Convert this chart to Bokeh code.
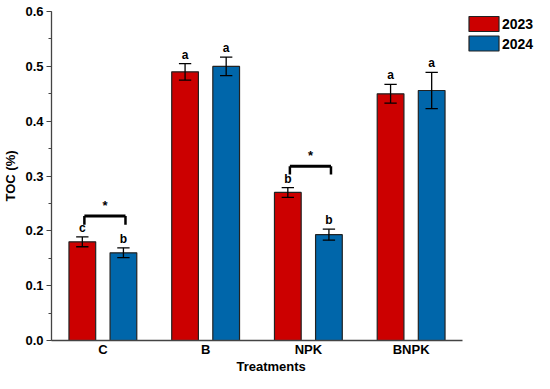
from bokeh.plotting import figure
from bokeh.layouts import row, column
from bokeh.models import (ColumnDataSource, Range1d, FixedTicker, SingleIntervalTicker,
                          NumeralTickFormatter)
from bokeh.embed import file_html
from bokeh.resources import INLINE

# ---- data ----
treatments = ["C", "B", "NPK", "BNPK"]
years = ["2023", "2024"]
toc_2023 = [0.180, 0.490, 0.270, 0.450]
toc_2024 = [0.160, 0.500, 0.193, 0.456]
err_2023 = [0.009, 0.015, 0.009, 0.017]
err_2024 = [0.009, 0.017, 0.010, 0.033]
letters_2023 = ["c", "a", "b", "a"]
letters_2024 = ["b", "a", "b", "a"]
sig_treatments = ["C", "NPK"]
sig_bar_y = [0.227, 0.318]
sig_drop_y = [0.211, 0.303]
sig_labels = ["*", "*"]
x_title = "Treatments"
y_title = "TOC (%)"

colors = {"2023": "#CC0000", "2024": "#0066AA"}
FONT = "Liberation Sans"
offset = 0.2
bar_w = 0.26
cap = 0.06

H = 373
HT = 14
H1 = H - HT
ML, MR, MT, MB = 42, 2, 11, 14
WMAIN = 464
WLEG = 534 - WMAIN

p = figure(width=WMAIN, height=H1, output_backend="svg", toolbar_location=None,
           x_range=Range1d(0, 4), y_range=Range1d(0, 0.6001),
           min_border_left=ML, min_border_right=MR, min_border_top=MT, min_border_bottom=MB)
p.outline_line_color = None
p.xgrid.grid_line_color = None
p.ygrid.grid_line_color = None

for yr, vals, errs, lets, sgn in [("2023", toc_2023, err_2023, letters_2023, -1),
                                   ("2024", toc_2024, err_2024, letters_2024, 1)]:
    xs = [i + 0.5 + sgn * offset for i in range(len(treatments))]
    src = ColumnDataSource(dict(x=xs, top=vals,
                                lo=[v - e for v, e in zip(vals, errs)],
                                hi=[v + e for v, e in zip(vals, errs)],
                                cl=[x - cap for x in xs], cr=[x + cap for x in xs],
                                lab=lets))
    p.vbar(x="x", top="top", width=bar_w, bottom=0, source=src,
           fill_color=colors[yr], line_color="#222222", line_width=1.2)
    p.segment(x0="x", y0="lo", x1="x", y1="hi", source=src, line_color="black", line_width=1.3)
    p.segment(x0="cl", y0="hi", x1="cr", y1="hi", source=src, line_color="black", line_width=1.3)
    p.segment(x0="cl", y0="lo", x1="cr", y1="lo", source=src, line_color="black", line_width=1.3)
    p.text(x="x", y="hi", text="lab", source=src, text_align="center", text_baseline="bottom",
           y_offset=-2, text_font_size="12px", text_font_style="bold", text_color="black",
           text_font={"value": FONT})

# significance brackets
sx = [treatments.index(t) + 0.5 for t in sig_treatments]
bsrc = ColumnDataSource(dict(l=[x - offset + 0.02 for x in sx], r=[x + offset + 0.02 for x in sx],
                             c=[x + 0.02 for x in sx], y=sig_bar_y, d=sig_drop_y, s=sig_labels))
p.segment(x0="l", y0="y", x1="r", y1="y", source=bsrc, line_color="black", line_width=3)
p.segment(x0="l", y0="y", x1="l", y1="d", source=bsrc, line_color="black", line_width=2.5)
p.segment(x0="r", y0="y", x1="r", y1="d", source=bsrc, line_color="black", line_width=2.5)
p.text(x="c", y="y", text="s", source=bsrc, text_align="center", text_baseline="bottom",
       y_offset=-3, text_font_size="13px", text_font_style="bold", text_color="black",
       text_font={"value": FONT})

# axes
ax = p.xaxis[0]
ax.ticker = FixedTicker(ticks=[i + 0.5 for i in range(len(treatments))])
ax.major_label_overrides = {i + 0.5: t for i, t in enumerate(treatments)}
ax.major_tick_line_color = None
ax.minor_tick_line_color = None
ax.major_tick_out = 0
ax.major_tick_in = 0
ax.minor_tick_out = 0
ax.minor_tick_in = 0
ax.axis_line_color = "#444444"
ax.axis_line_width = 1.3
ax.major_label_standoff = 1

ay = p.yaxis[0]
ay.ticker = SingleIntervalTicker(interval=0.1, num_minor_ticks=2)
ay.formatter = NumeralTickFormatter(format="0.0")
ay.axis_label = y_title
ay.axis_line_color = "#444444"
ay.axis_line_width = 1.3
ay.major_tick_out = 5
ay.major_tick_in = 0
ay.minor_tick_out = 3
ay.minor_tick_in = 0
ay.major_tick_line_color = "#444444"
ay.minor_tick_line_color = "#444444"
ay.major_label_standoff = 3
ay.axis_label_standoff = 4

for a in (ax, ay):
    a.major_label_text_font = FONT
    a.major_label_text_font_style = "bold"
    a.major_label_text_font_size = "13px"
    a.major_label_text_color = "black"
    a.axis_label_text_font = FONT
    a.axis_label_text_font_style = "bold"
    a.axis_label_text_font_size = "13px"
    a.axis_label_text_color = "black"

# x-axis title strip
tf = figure(width=WMAIN, height=HT, output_backend="svg", toolbar_location=None,
            x_range=Range1d(0, WMAIN), y_range=Range1d(0, HT),
            min_border=0, x_axis_type=None, y_axis_type=None)
tf.outline_line_color = None
tf.xgrid.grid_line_color = None
tf.ygrid.grid_line_color = None
tf.text(x=[ML + (WMAIN - ML - MR) / 2 - 4], y=[HT / 2], text=[x_title],
        text_align="center", text_baseline="middle", text_font_size="13px",
        text_font_style="bold", text_color="black", text_font={"value": FONT})

# legend panel
lg = figure(width=WLEG, height=H, output_backend="svg", toolbar_location=None,
            x_range=Range1d(0, WLEG), y_range=Range1d(H, 0),
            min_border=0, x_axis_type=None, y_axis_type=None)
lg.outline_line_color = None
lg.xgrid.grid_line_color = None
lg.ygrid.grid_line_color = None
lsrc = ColumnDataSource(dict(
    x=[19.5] * len(years),
    y=[23.5 + 19.5 * i for i in range(len(years))],
    tx=[37.5] * len(years),
    lab=years,
    c=[colors[yr] for yr in years]))
lg.rect(x="x", y="y", width=30, height=15, source=lsrc, fill_color="c",
        line_color="#222222", line_width=1.2)
lg.text(x="tx", y="y", text="lab", source=lsrc, text_baseline="middle", text_align="left",
        text_font_size="14px", text_font_style="bold", text_color="black",
        text_font={"value": FONT})

layout = row(column(p, tf), lg)
open("out.html", "w").write(file_html(layout, INLINE))
